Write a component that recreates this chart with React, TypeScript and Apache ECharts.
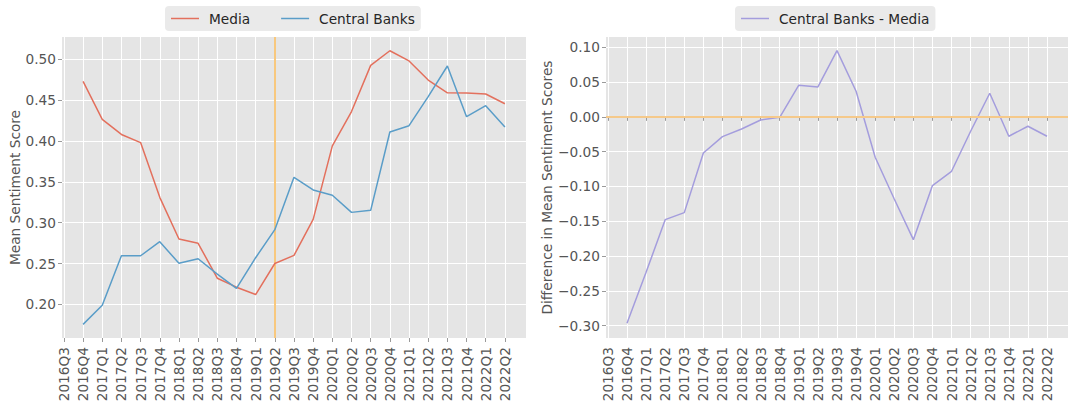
import React, { useEffect, useRef } from "react";
import * as echarts from "echarts";

const categories = [
  "2016Q3", "2016Q4", "2017Q1", "2017Q2", "2017Q3", "2017Q4",
  "2018Q1", "2018Q2", "2018Q3", "2018Q4", "2019Q1", "2019Q2",
  "2019Q3", "2019Q4", "2020Q1", "2020Q2", "2020Q3", "2020Q4",
  "2021Q1", "2021Q2", "2021Q3", "2021Q4", "2022Q1", "2022Q2",
];

const media = [
  null, 0.473, 0.4265, 0.408, 0.398, 0.331, 0.28, 0.2747, 0.232, 0.221, 0.212, 0.25,
  0.26, 0.304, 0.394, 0.436, 0.4926, 0.5105, 0.498, 0.4746, 0.459, 0.4587, 0.4575, 0.4456,
];

const centralBanks = [
  null, 0.1755, 0.199, 0.2595, 0.2595, 0.2767, 0.2502, 0.2558, 0.2371, 0.2196, 0.2571, 0.2914,
  0.3555, 0.34, 0.3335, 0.3126, 0.3151, 0.411, 0.4187, 0.4542, 0.4918, 0.4297, 0.4432, 0.4171,
];

const difference = [
  null, -0.2966, -0.2233, -0.1477, -0.1376, -0.0519, -0.0284, -0.0174, -0.0045, -0.0006, 0.0454, 0.043,
  0.0951, 0.0368, -0.058, -0.118, -0.1764, -0.0988, -0.0782, -0.0207, 0.0339, -0.0279, -0.0135, -0.0279,
];

const leftYTicks = [0.2, 0.25, 0.3, 0.35, 0.4, 0.45, 0.5];
const rightYTicks = [-0.3, -0.25, -0.2, -0.15, -0.1, -0.05, 0.0, 0.05, 0.1];

const markerCategory = "2019Q2";
const zeroLevel = 0;

const FONT = "DejaVu Sans";
const FS = 13.7;
const LABEL_COLOR = "#555555";
const BG = "#E5E5E5";

const fmtLeft = (v: number) => v.toFixed(2);
const fmtRight = (v: number) =>
  Math.abs(v) < 1e-9 ? "0.00" : (v < 0 ? "\u2212" : "") + Math.abs(v).toFixed(2);

function catAxis(gridIndex: number) {
  return {
    gridIndex,
    type: "category",
    data: categories,
    boundaryGap: false,
    axisLine: { show: false },
    axisTick: { show: true, length: 4, interval: 0, lineStyle: { color: "#9a9a9a" } },
    axisLabel: {
      rotate: 90,
      interval: 0,
      margin: 9,
      fontSize: FS,
      color: LABEL_COLOR,
      fontFamily: FONT,
    },
    splitLine: { show: true, interval: 0, lineStyle: { color: "#ffffff", width: 1 } },
  };
}

function valueAxis(
  gridIndex: number,
  min: number,
  max: number,
  ticks: number[],
  fmt: (v: number) => string,
  name: string,
  nameGap: number
) {
  return {
    gridIndex,
    type: "value",
    min,
    max,
    minInterval: 0.05,
    maxInterval: 0.05,
    splitNumber: 8,
    axisLine: { show: false },
    axisTick: { show: true, length: 4, customValues: ticks, lineStyle: { color: "#9a9a9a" } },
    axisLabel: {
      customValues: ticks,
      formatter: fmt,
      fontSize: FS,
      color: LABEL_COLOR,
      fontFamily: FONT,
      margin: 6,
    },
    splitLine: { show: true, lineStyle: { color: "#ffffff", width: 1 } },
    name,
    nameLocation: "middle",
    nameGap,
    nameTextStyle: { fontSize: FS, color: LABEL_COLOR, fontFamily: FONT },
  };
}

function hiddenValueAxis(gridIndex: number, min: number, max: number) {
  return { gridIndex, type: "value", min, max, show: false };
}

export default function App() {
  const ref = useRef<HTMLDivElement>(null);

  useEffect(() => {
    if (!ref.current) return;
    const chart = echarts.init(ref.current, undefined, { renderer: "svg" });

    const leftMin = 0.1588;
    const leftMax = 0.5273;
    const rightMin = -0.3177;
    const rightMax = 0.1147;

    const legendCommon = {
      top: 6,
      backgroundColor: "#EAEAEA",
      borderRadius: 4,
      padding: [4, 6, 4, 6],
      icon: "rect",
      itemWidth: 28,
      itemHeight: 1.5,
      itemGap: 31,
      textStyle: {
        fontSize: FS,
        color: "#262626",
        fontFamily: FONT,
        padding: [0, 0, 0, 5],
        lineHeight: 17,
      },
    };

    const option: any = {
      animation: false,
      textStyle: { fontFamily: FONT },
      legend: [
        { ...legendCommon, left: 165, data: ["Media", "Central Banks"] },
        { ...legendCommon, left: 735, data: ["Central Banks - Media"] },
      ],
      grid: [
        { left: 62, top: 37, width: 464, height: 301, show: true, backgroundColor: BG, borderWidth: 0, outerBoundsMode: "none" },
        { left: 63.9, top: 37, width: 441, height: 301, show: false, outerBoundsMode: "none" },
        { left: 606, top: 37, width: 462, height: 301, show: true, backgroundColor: BG, borderWidth: 0, outerBoundsMode: "none" },
        { left: 607.9, top: 37, width: 439.1, height: 301, show: false, outerBoundsMode: "none" },
      ],
      xAxis: [
        hiddenValueAxis(0, 0, 1),
        catAxis(1),
        hiddenValueAxis(2, 0, 1),
        catAxis(3),
      ],
      yAxis: [
        valueAxis(0, leftMin, leftMax, leftYTicks, fmtLeft, "Mean Sentiment Score", 38),
        hiddenValueAxis(1, leftMin, leftMax),
        valueAxis(2, rightMin, rightMax, rightYTicks, fmtRight, "Difference in Mean Sentiment Scores", 51),
        hiddenValueAxis(3, rightMin, rightMax),
      ],
      series: [
        {
          name: "Media",
          type: "line",
          xAxisIndex: 1,
          yAxisIndex: 1,
          data: media,
          symbol: "none",
          lineStyle: { width: 1.5, color: "#E3705D" },
          itemStyle: { color: "#E3705D" },
          emphasis: { disabled: true },
          z: 3,
          markLine: {
            silent: true,
            symbol: ["none", "none"],
            label: { show: false },
            lineStyle: { color: "#F8C87E", width: 2, type: "solid" },
            emphasis: { disabled: true },
            data: [{ xAxis: markerCategory }],
            z: 2,
          },
        },
        {
          name: "Central Banks",
          type: "line",
          xAxisIndex: 1,
          yAxisIndex: 1,
          data: centralBanks,
          symbol: "none",
          lineStyle: { width: 1.5, color: "#5A9DC8" },
          itemStyle: { color: "#5A9DC8" },
          emphasis: { disabled: true },
          z: 3,
        },
        {
          name: "zero",
          type: "line",
          xAxisIndex: 2,
          yAxisIndex: 2,
          data: [],
          symbol: "none",
          markLine: {
            silent: true,
            symbol: ["none", "none"],
            label: { show: false },
            lineStyle: { color: "#F5C98A", width: 2, type: "solid" },
            emphasis: { disabled: true },
            data: [{ yAxis: zeroLevel }],
          },
          z: 4,
        },
        {
          name: "Central Banks - Media",
          type: "line",
          xAxisIndex: 3,
          yAxisIndex: 3,
          data: difference,
          symbol: "none",
          lineStyle: { width: 1.5, color: "#A49DDD" },
          itemStyle: { color: "#A49DDD" },
          emphasis: { disabled: true },
          z: 3,
        },
      ],
    };

    chart.setOption(option);
    return () => chart.dispose();
  }, []);

  return (
    <div
      ref={ref}
      style={{ position: "fixed", left: 0, top: 0, width: 1080, height: 406, background: "#ffffff" }}
    />
  );
}
